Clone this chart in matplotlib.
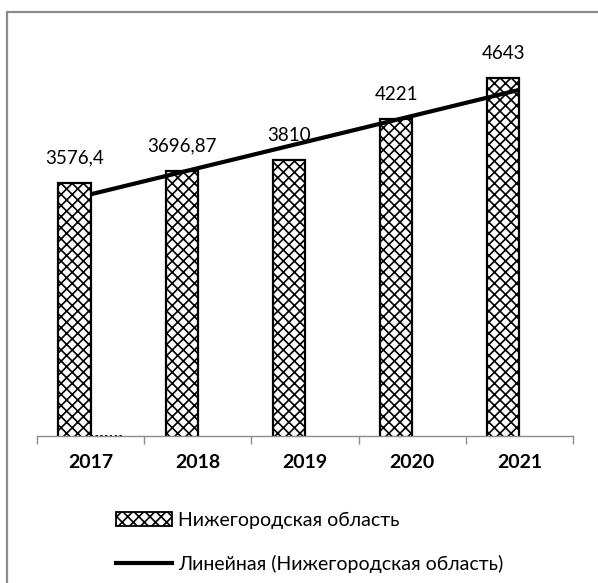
import numpy as np
import matplotlib.pyplot as plt
from matplotlib.patches import Rectangle, Patch
from matplotlib.lines import Line2D

# данные
years = ['2017', '2018', '2019', '2020', '2021']
values = [3576.4, 3696.87, 3810, 4221, 4643]
value_labels = ['3576,4', '3696,87', '3810', '4221', '4643']
series_name = 'Нижегородская область'
trend_name = 'Линейная (Нижегородская область)'
y_min, y_max = 1000, 5000

plt.rcParams['font.family'] = ['Lato', 'DejaVu Sans']
plt.rcParams['hatch.linewidth'] = 1.2

fig = plt.figure(figsize=(5.98, 5.83), dpi=100)
W, H = 598, 583
ax = fig.add_axes([37 / W, (H - 436) / H, (573 - 37) / W, (436 - 42.7) / H])

x = np.arange(len(years))
bw = 0.3
bars = ax.bar(x - bw / 2, values, width=bw, bottom=0, color='white', edgecolor='black',
              linewidth=1.6, hatch='xxx')

# пустой второй ряд у 2017 (пунктир по оси)
ax.bar([x[0] + bw / 2], [0], width=bw, bottom=y_min, color='none', edgecolor='black',
       linewidth=1.3, linestyle=':')

# подписи значений
for xi, v, lab in zip(x, values, value_labels):
    ax.annotate(lab, (xi - bw / 2, v), xytext=(0, 11.5), textcoords='offset points',
                ha='center', va='bottom', fontsize=13.5)

# линейный тренд
k, b = np.polyfit(x + 1, values, 1)
ax.plot(x, k * (x + 1) + b, color='black', linewidth=3, solid_capstyle='butt')

ax.set_ylim(y_min, y_max)
ax.set_xlim(-0.5, len(years) - 0.5)
for s in ['top', 'right', 'left']:
    ax.spines[s].set_visible(False)
ax.spines['bottom'].set_color('#8c8c8c')
ax.spines['bottom'].set_linewidth(1)
ax.set_yticks([])
ax.set_xticks(np.arange(-0.5, len(years)), [''] * (len(years) + 1))
ax.tick_params(axis='x', which='major', direction='out', length=6, color='#8c8c8c', width=1)
ax.set_xticks(x, years, minor=True)
ax.tick_params(axis='x', which='minor', length=0, pad=13, labelsize=14)
for t in ax.get_xticklabels(minor=True):
    t.set_fontweight('bold')

# рамка области диаграммы
fig.patches.append(Rectangle((7 / W, -0.1), 1.0, (H - 12) / H + 0.1, transform=fig.transFigure,
                             fill=False, edgecolor='#8c8c8c', linewidth=1.6))

handles = [Patch(facecolor='white', edgecolor='black', hatch='xxx', linewidth=1.3),
           Line2D([0], [0], color='black', linewidth=3)]
fig.legend(handles, [series_name, trend_name], loc='upper left',
           bbox_to_anchor=(108 / W, (H - 504) / H), frameon=False, fontsize=14,
           handlelength=2.9, handletextpad=0.3, labelspacing=1.35, borderaxespad=0)

fig.savefig('out.png', dpi=100)
